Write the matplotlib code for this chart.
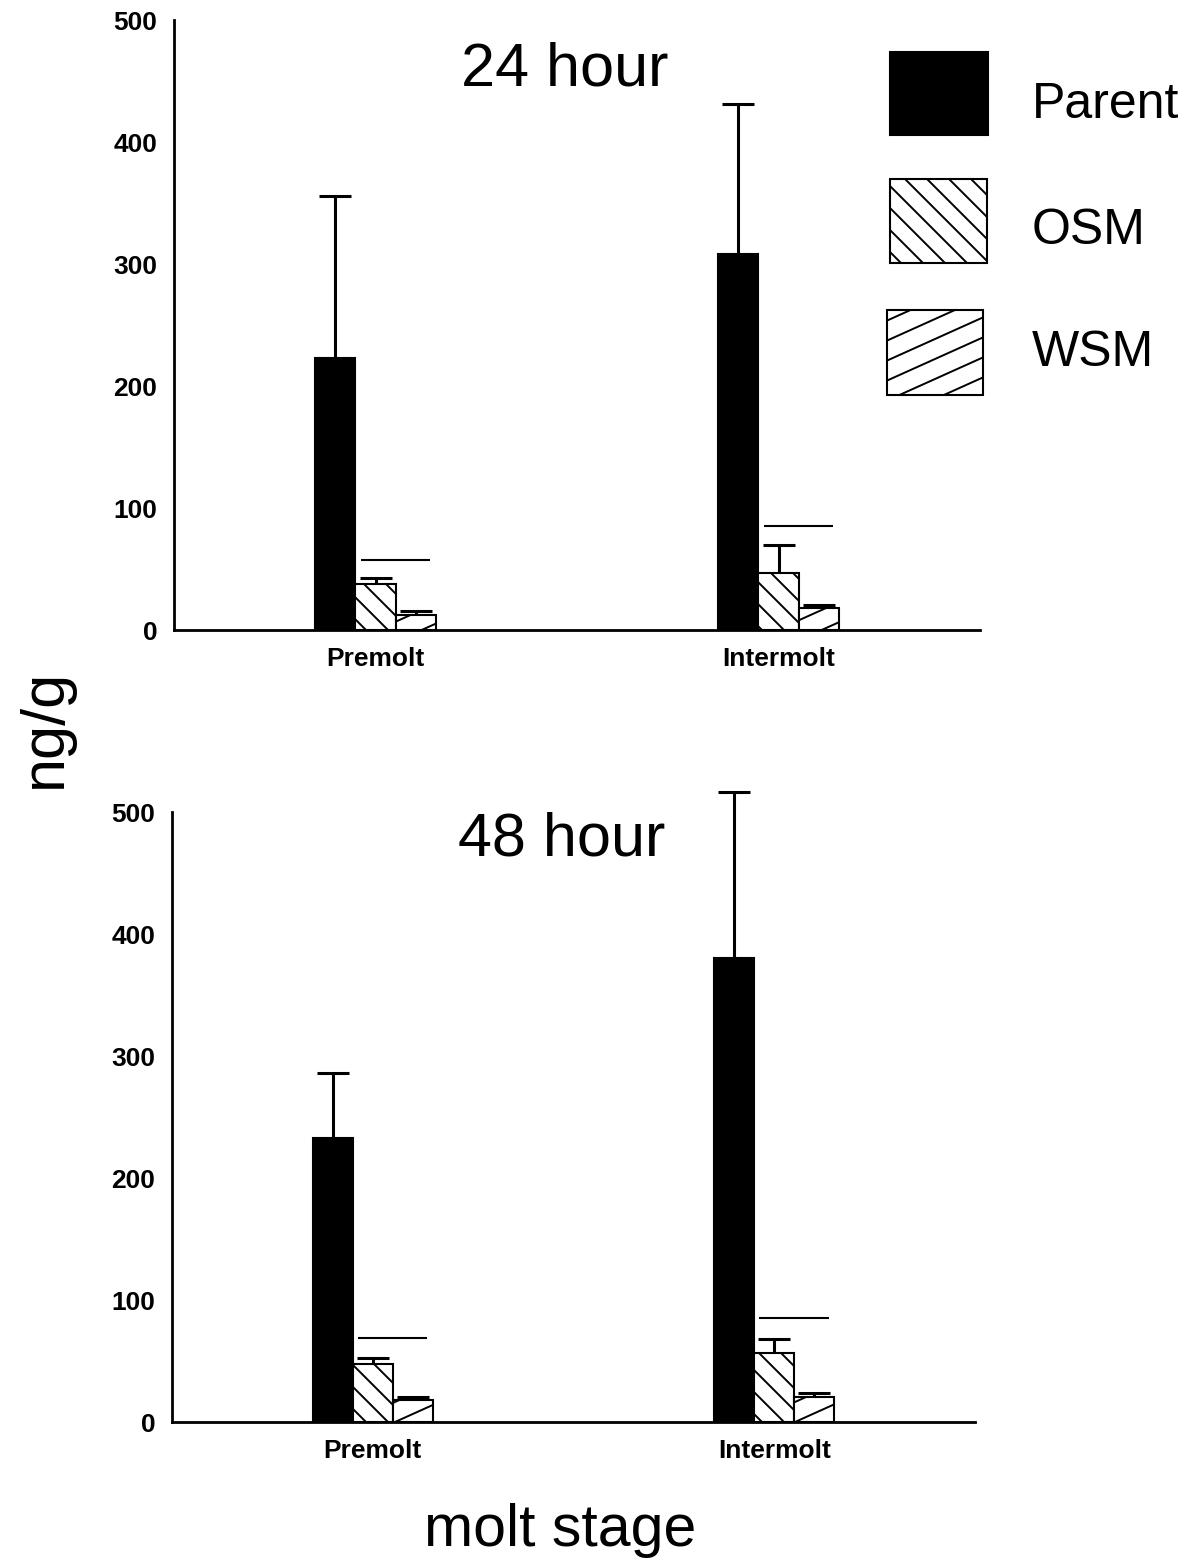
import numpy as np
import matplotlib.pyplot as plt
from matplotlib.collections import LineCollection
from matplotlib.patches import Rectangle
from matplotlib.transforms import IdentityTransform

plt.rcParams["font.family"] = ["Liberation Sans", "DejaVu Sans"]

W, H = 1195, 1562

stages = ["Premolt", "Intermolt"]
series = ["Parent", "OSM", "WSM"]

# 24 hour panel (ng/g), upper error given as distance above the bar
parent_24 = [223, 308]
parent_24_err = [133, 123]
osm_24 = [38, 47]
osm_24_err = [5, 23]
wsm_24 = [12, 18]
wsm_24_err = [3.5, 2.5]
line_24 = [57, 85]

# 48 hour panel
parent_48 = [233, 380]
parent_48_err = [53, 136]
osm_48 = [47.5, 56.5]
osm_48_err = [5, 11.5]
wsm_48 = [18, 20.5]
wsm_48_err = [2.5, 3]
line_48 = [69, 85]

BAR_W = 0.1
OFFSETS = [-0.1, 0.0, 0.1]
# hatch: (slope in pixels, vertical spacing in pixels)
HATCH = {"Parent": None, "OSM": (-1.0, 22), "WSM": (0.45, 20)}


def hatch_lines(slope, spacing, lw=1.4):
    """Slanted lines across the whole figure, in pixel space"""
    c_min = -max(0, slope * W) - spacing
    c_max = H - min(0, slope * W) + spacing
    segs = [[(0, c), (W, slope * W + c)] for c in np.arange(c_min, c_max, spacing)]
    return LineCollection(segs, transform=IdentityTransform(), colors="black",
                          linewidths=lw, zorder=1.5)


def panel(ax, values, errors, extra, title, title_y):
    x = np.arange(len(stages))
    for name, off, vals, errs in zip(series, OFFSETS, values, errors):
        fc = "black" if name == "Parent" else "white"
        bars = ax.bar(x + off, vals, BAR_W, color=fc, edgecolor="black",
                      linewidth=1.5, zorder=1)
        if HATCH[name] is not None:
            for b in bars:
                lc = hatch_lines(*HATCH[name])
                ax.add_collection(lc, autolim=False)
                lc.set_clip_path(b)
        _, caps, bars_err = ax.errorbar(x + off, vals,
                                        yerr=[np.zeros(len(errs)), errs],
                                        fmt="none", ecolor="black", elinewidth=2.2,
                                        capsize=11.5, capthick=2.2, zorder=3)
        caps[0].set_visible(False)
        for c in list(caps) + list(bars_err):
            c.set_clip_on(False)

    ax.hlines(extra, x - 0.037, x + 0.136, color="black", linewidth=1.5, zorder=3)

    ax.set_xlim(-0.5, 1.5)
    ax.set_ylim(0, 500)
    ax.set_xticks(x)
    ax.set_xticklabels(stages, fontsize=19, fontweight="bold")
    ax.set_yticks(np.arange(0, 501, 100))
    ax.set_yticklabels([str(v) for v in range(0, 501, 100)],
                       fontsize=19, fontweight="bold")
    ax.tick_params(axis="both", length=0)
    ax.tick_params(axis="y", pad=12)
    ax.tick_params(axis="x", pad=12)
    for s in ["top", "right"]:
        ax.spines[s].set_visible(False)
    for s in ["left", "bottom"]:
        ax.spines[s].set_linewidth(2)
    ax.text(0.485, title_y, title, transform=ax.transAxes, ha="center",
            va="baseline", fontsize=44)


fig = plt.figure(figsize=(W / 100, H / 100), dpi=100)
ax1 = fig.add_axes([174 / W, 1 - 630 / H, 806 / W, 610 / H])
ax2 = fig.add_axes([172 / W, 1 - 1422 / H, 803 / W, 610 / H])

panel(ax1, [parent_24, osm_24, wsm_24], [parent_24_err, osm_24_err, wsm_24_err],
      line_24, "24 hour", (630 - 86) / 610)
panel(ax2, [parent_48, osm_48, wsm_48], [parent_48_err, osm_48_err, wsm_48_err],
      line_48, "48 hour", (1422 - 856) / 610)

# legend drawn as boxes in figure space (box corners, text baseline)
boxes = {"Parent": (890, 52, 988, 135, 118), "OSM": (890, 179, 987, 263, 244),
         "WSM": (887, 310, 983, 395, 366)}
for name in series:
    x0, y0, x1, y1, base = boxes[name]
    fc = "black" if name == "Parent" else "white"
    rect = Rectangle((x0 / W, 1 - y1 / H), (x1 - x0) / W, (y1 - y0) / H,
                     transform=fig.transFigure, facecolor=fc, edgecolor="black",
                     linewidth=1.5)
    fig.add_artist(rect)
    if HATCH[name] is not None:
        lc = hatch_lines(*HATCH[name])
        fig.add_artist(lc)
        lc.set_clip_path(rect)
    fig.text(1032 / W, 1 - base / H, name, ha="left", va="baseline",
             fontsize=36)

fig.text(45 / W, 1 - 728 / H, "ng/g", rotation=90, ha="center", va="center",
         fontsize=44)
fig.text(560 / W, 1 - 1530 / H, "molt stage", ha="center", va="center",
         fontsize=42.5)

fig.savefig("out.png", dpi=100)
